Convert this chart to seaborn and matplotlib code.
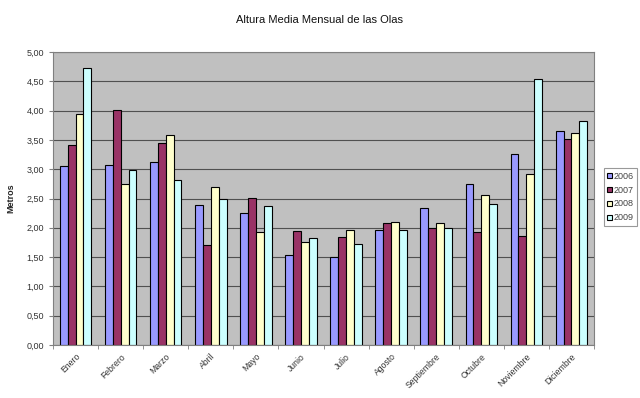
import matplotlib
matplotlib.use("Agg")
import matplotlib.pyplot as plt
import seaborn as sns
import pandas as pd
import numpy as np
from matplotlib.ticker import FuncFormatter, FixedLocator

months = ["Enero", "Febrero", "Marzo", "Abril", "Mayo", "Junio", "Julio",
          "Agosto", "Septiembre", "Octubre", "Noviembre", "Diciembre"]
years = ["2006", "2007", "2008", "2009"]
v2006 = [3.05, 3.08, 3.13, 2.39, 2.25, 1.53, 1.50, 1.96, 2.33, 2.75, 3.26, 3.65]
v2007 = [3.42, 4.01, 3.44, 1.71, 2.51, 1.95, 1.85, 2.08, 1.99, 1.92, 1.86, 3.51]
v2008 = [3.94, 2.75, 3.58, 2.70, 1.93, 1.76, 1.96, 2.10, 2.09, 2.56, 2.91, 3.61]
v2009 = [4.72, 2.98, 2.82, 2.49, 2.38, 1.83, 1.72, 1.96, 1.99, 2.41, 4.54, 3.83]
colors = ["#9999FF", "#993366", "#FFFFCC", "#CCFFFF"]

rows = []
for y, vals in zip(years, [v2006, v2007, v2008, v2009]):
    for m, v in zip(months, vals):
        rows.append({"Mes": m, "Año": y, "Metros": v})
df = pd.DataFrame(rows)

sns.set_style("white")
plt.rcParams["font.family"] = ["Liberation Sans", "DejaVu Sans"]

fig = plt.figure(figsize=(6.4, 3.98), dpi=100)
ax = fig.add_axes([53/640, 1 - 345/398, (594-53)/640, (345-52)/398])
ax.set_facecolor("#C0C0C0")

sns.barplot(data=df, x="Mes", y="Metros", hue="Año", order=months,
            hue_order=years, palette=colors, width=0.7, saturation=1,
            edgecolor="black", linewidth=0.8, ax=ax, errorbar=None)

ax.set_xlim(-0.5, 11.5)
ax.set_ylim(0, 5)
ax.set_yticks(np.arange(0, 5.01, 0.5))
ax.yaxis.set_major_formatter(FuncFormatter(lambda v, p: f"{v:.2f}".replace(".", ",")))
ax.yaxis.grid(True, color="#505050", linewidth=0.8)
ax.set_axisbelow(True)
for s in ax.spines.values():
    s.set_color("#808080")
    s.set_linewidth(0.8)

ax.set_xticks(range(12))
ax.set_xticklabels(months, rotation=45, ha="right", rotation_mode="anchor",
                   fontsize=6.2, color="#333333")
ax.xaxis.set_minor_locator(FixedLocator(np.arange(-0.5, 12, 1)))
ax.tick_params(axis="x", which="major", length=0, pad=5)
ax.tick_params(axis="x", which="minor", length=3, color="#808080", direction="out", bottom=True)
ax.tick_params(axis="y", length=3, color="#808080", direction="out", labelsize=6.5,
               labelcolor="#333333", left=True)

ax.set_xlabel("")
ax.set_ylabel("Metros", fontsize=6.5, fontweight="bold", labelpad=8)
fig.text(0.5, 1 - 20/398, "Altura Media Mensual de las Olas", ha="center", va="center",
         fontsize=8, color="#111111")

leg = ax.legend(loc="center left", bbox_to_anchor=(604/640, 1 - 197/398),
                bbox_transform=fig.transFigure, borderaxespad=0,
                fontsize=6.5, frameon=True, fancybox=False, edgecolor="#808080",
                handlelength=0.5, handleheight=0.5, handletextpad=0.25,
                borderpad=0.35, labelspacing=0.55, title=None)
leg.get_frame().set_linewidth(0.8)
for t in leg.get_texts():
    t.set_color("#444444")

fig.savefig("out.png", dpi=100, facecolor="white")
